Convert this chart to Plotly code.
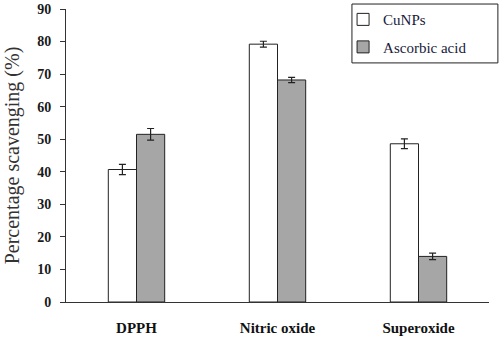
import plotly.graph_objects as go

categories = ["DPPH", "Nitric oxide", "Superoxide"]
cunps = [40.7, 79.2, 48.6]
cunps_err = [1.6, 0.9, 1.5]
ascorbic = [51.5, 68.2, 14.0]
ascorbic_err = [1.8, 0.8, 1.0]
y_ticks = [0, 10, 20, 30, 40, 50, 60, 70, 80, 90]

serif = "Liberation Serif"

fig = go.Figure()
fig.add_trace(go.Bar(
    name="CuNPs", x=categories, y=cunps,
    marker=dict(color="white", line=dict(color="#222222", width=1)),
    error_y=dict(type="data", array=cunps_err, color="#222222", thickness=1.2, width=3.5),
    legendgroup="a",
))
fig.add_trace(go.Bar(
    name="Ascorbic acid", x=categories, y=ascorbic,
    marker=dict(color="#a6a6a6", line=dict(color="#222222", width=1)),
    error_y=dict(type="data", array=ascorbic_err, color="#222222", thickness=1.2, width=3.5),
    legendgroup="b",
))

fig.update_layout(
    width=500, height=342,
    margin=dict(l=66, r=11, t=9, b=40, autoexpand=False),
    paper_bgcolor="white", plot_bgcolor="white",
    barmode="group", bargap=0.6, bargroupgap=0,
    font=dict(family=serif, color="#111111"),
    legend=dict(
        x=0.655, y=1.02, xanchor="left", yanchor="top",
        bgcolor="rgba(0,0,0,0)", borderwidth=0,
        font=dict(family=serif, size=15, color="#1a1a3a"),
        traceorder="grouped", tracegroupgap=5,
    ),
    shapes=[dict(type="rect", xref="paper", yref="paper",
                 x0=0.676, x1=1.021, y0=0.816, y1=1.017,
                 line=dict(color="#222222", width=1), fillcolor="rgba(0,0,0,0)",
                 layer="above")],
)
fig.update_xaxes(
    showline=True, linecolor="#333333", linewidth=1,
    ticks="", showgrid=False, automargin=False,
    tickfont=dict(family=serif, size=15, color="#111111", weight="bold"),
    ticklabelstandoff=12,
)
fig.update_yaxes(
    range=[0, 90], tickvals=y_ticks,
    showline=True, linecolor="#333333", linewidth=1,
    ticks="outside", ticklen=5, tickcolor="#333333",
    showgrid=False, zeroline=False, automargin=False,
    tickfont=dict(family=serif, size=14, color="#1a1a1a", weight="bold"),
    ticklabelstandoff=6,
    title=dict(text="Percentage scavenging (%)", standoff=12,
               font=dict(family=serif, size=20, color="#333333")),
)

fig.write_html(
    "out.html",
    config={"displayModeBar": False},
    post_script="document.body.style.margin='0';document.body.style.overflow='hidden';",
)
